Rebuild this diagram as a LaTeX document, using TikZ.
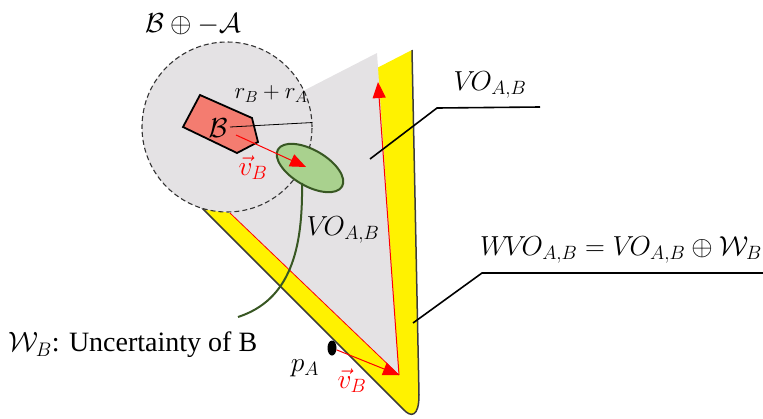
\RequirePackage{fix-cm}
\documentclass[tikz,border=0pt]{standalone}
\usepackage{fontspec}
\setmainfont{Liberation Serif}
\usetikzlibrary{arrows.meta,shapes.geometric}
\definecolor{vogray}{RGB}{228,226,228}
\definecolor{salmonred}{RGB}{244,124,112}
\definecolor{lgreen}{RGB}{169,209,142}
\definecolor{dgreen}{RGB}{56,87,35}
\definecolor{outlinegray}{RGB}{60,60,60}
\begin{document}
\begin{tikzpicture}[x=1pt,y=-1pt,
  redarrow/.style={red, line width=1pt, -{Triangle[length=16pt,width=13pt]}},
  redline/.style={red, line width=0.8pt},
  leader/.style={black, line width=1.6pt},
  lbl/.style={inner sep=0pt, font=\fontsize{27.5}{32}\selectfont},
  smalllbl/.style={inner sep=0pt, font=\fontsize{23}{27}\selectfont}]
\useasboundingbox (0,0) rectangle (763,418);

% key points
\coordinate (apex) at (399,375);
\coordinate (lefttop) at (230,213);
\coordinate (rtop) at (378,82);

% yellow widened obstacle
\fill[yellow] (202,208) -- (403,409) .. controls (411,418) and (419,417) .. (419,395)
  -- (412,50) -- (377,68) -- (apex) -- (lefttop) -- cycle;
% gray velocity obstacle cone
\fill[vogray] (apex) -- (lefttop) -- (227,127) -- (305,90) -- (377,53) -- cycle;
% dark outline of the yellow region
\draw[outlinegray, line width=1.5pt] (202,208) -- (403,409)
  .. controls (411,418) and (419,417) .. (419,395) -- (412,50);

% Minkowski sum disc
\node[circle, draw=black!80, dash pattern=on 5pt off 3pt, line width=1.1pt,
      fill=vogray, minimum size=170pt, inner sep=0pt] (mink) at (227,127) {};

% red cone edges
\draw[redline] (lefttop) -- (apex);
\draw[redarrow] (apex) -- (rtop);

% obstacle B
\draw[fill=salmonred, line width=1.8pt] (200,95) -- (252,118) -- (258,142)
  -- (237,153) -- (183,127) -- cycle;
\node[lbl] (Blbl) at (218,128) {$\mathcal{B}$};
\coordinate (bc) at (230,127);
\draw[line width=0.8pt] (bc) -- (mink.3.5);
\node[smalllbl] (rlbl) at (271,94) {$r_B + r_A$};

% uncertainty ellipse
\node[ellipse, draw=dgreen, line width=2pt, fill=lgreen, minimum width=74pt,
      minimum height=36pt, rotate=-30, inner sep=0pt] (wb) at (310,168) {};
\coordinate (vbs) at (236,135);
\coordinate (vbe) at (306,167);
\draw[redarrow] (vbs) -- (vbe);
\node[lbl, text=red] (vb1) at (253,168) {$\vec{v}_B$};

\coordinate (gs) at (302,183);
\coordinate (ge) at (238,317);
\draw[dgreen, line width=2pt] (gs) .. controls (303,250) and (290,300) .. (ge);

% p_A
\node[ellipse, fill=black, minimum width=9pt, minimum height=15pt, inner sep=0pt] (pa) at (332,348) {};
\draw[redarrow] (pa) -- (apex);
\node[lbl] (palbl) at (305,368) {$p_A$};
\node[lbl, text=red] (vb2) at (352,381) {$\vec{v}_B$};

% labels
\node[lbl] (title) at (193,24) {$\mathcal{B}\oplus-\mathcal{A}$};
\node[lbl] (vomid) at (343,230) {$V\!O_{A,B}$};
\node[lbl] (votop) at (490,85) {$V\!O_{A,B}$};
\node[lbl] (wvo) at (621,250) {$W\!V\!O_{A,B} = V\!O_{A,B} \oplus \mathcal{W}_B$};
\node[inner sep=0pt, anchor=west, font=\fontsize{28}{33}\selectfont] (wlbl) at (8,345)
  {$\mathcal{W}_B$: Uncertainty of B};

% leaders
\coordinate (l1a) at (370,159);
\coordinate (l1b) at (437,108);
\coordinate (l1c) at (540,107);
\draw[leader] (l1a) -- (l1b) -- (l1c);
\coordinate (l2a) at (413,323);
\coordinate (l2b) at (482,273);
\coordinate (l2c) at (763,273);
\draw[leader] (l2a) -- (l2b) -- (l2c);
\end{tikzpicture}
\end{document}
